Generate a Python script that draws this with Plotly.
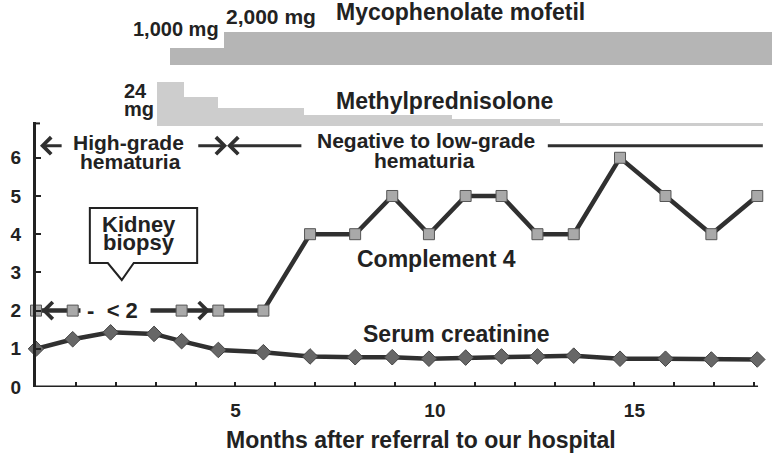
import plotly.graph_objects as go

# ---------------- data ----------------
c4_months = [0, 0.92, 3.65, 4.57, 5.70, 6.87, 8.00, 8.93, 9.85, 10.77, 11.67, 12.57, 13.48, 14.64, 15.78, 16.93, 18.08]
c4_values = [2, 2, 2, 2, 2, 4, 4, 5, 4, 5, 5, 4, 4, 6, 5, 4, 5]

cr_months = [0, 0.92, 1.87, 2.96, 3.65, 4.57, 5.70, 6.87, 8.00, 8.93, 9.85, 10.77, 11.67, 12.57, 13.48, 14.64, 15.78, 16.93, 18.08]
cr_values = [1.0, 1.25, 1.43, 1.39, 1.2, 0.97, 0.91, 0.8, 0.78, 0.78, 0.74, 0.77, 0.8, 0.8, 0.82, 0.74, 0.74, 0.72, 0.72]

mp_start = [3.03, 3.71, 4.57, 6.72, 10.42, 13.13]
mp_end = [3.71, 4.57, 6.72, 10.42, 13.13, 18.23]
mp_dose = [24, 16, 10, 6, 4, 2]

mmf_start = [3.36, 4.71]
mmf_end = [4.71, 18.45]
mmf_dose = [1000, 2000]

x_tickvals = list(range(1, 19))
x_ticktext = ["<b>%d</b>" % v if v in (5, 10, 15) else "" for v in x_tickvals]
y_tickvals = [0, 1, 2, 3, 4, 5, 6]
y_ticktext = ["<b>%d</b>" % v for v in y_tickvals]

FONT = "Liberation Sans, Arial, sans-serif"
INK = "#222222"
LINE = "#303030"

H_PLOT = 387.0


def py2paper(py):
    return (H_PLOT - py) / H_PLOT


def py2y(py):
    return (H_PLOT - py) / 38.2


fig = go.Figure()

# drug bars
fig.add_trace(go.Bar(x=mmf_start, y=mmf_dose, width=[e - s for s, e in zip(mmf_start, mmf_end)],
                     offset=0, xaxis="x", yaxis="y3", marker=dict(color="#b5b5b5", line=dict(width=0)),
                     hoverinfo="skip"))
fig.add_trace(go.Bar(x=mp_start, y=mp_dose, width=[e - s for s, e in zip(mp_start, mp_end)],
                     offset=0, xaxis="x", yaxis="y2", marker=dict(color="#cdcdcd", line=dict(width=0)),
                     hoverinfo="skip"))

# serum creatinine
fig.add_trace(go.Scatter(x=cr_months, y=cr_values, mode="lines+markers", cliponaxis=False,
                         line=dict(color=LINE, width=4.5),
                         marker=dict(symbol="diamond", size=12, color="#676767",
                                     line=dict(color="#444444", width=1))))
# complement 4
fig.add_trace(go.Scatter(x=c4_months, y=c4_values, mode="lines+markers", cliponaxis=False,
                         line=dict(color=LINE, width=4.5),
                         marker=dict(symbol="square", size=11, color="#a9a9a9",
                                     line=dict(color="#555555", width=1))))

ann = []


def label(text, x, y, size, xref="x", yref="y", xanchor="center", bg=None):
    d = dict(text="<b>%s</b>" % text, x=x, y=y, xref=xref, yref=yref, showarrow=False,
             xanchor=xanchor, yanchor="middle", font=dict(family=FONT, size=size, color=INK))
    if bg:
        d["bgcolor"] = bg
        d["borderpad"] = 0
    ann.append(d)


def arrow(xh, xt, y, standoff=0):
    ann.append(dict(x=xh, y=y, ax=xt, ay=y, xref="x", yref="y", axref="x", ayref="y", text="",
                    showarrow=True, arrowhead=4, arrowsize=1.1, arrowwidth=3, arrowcolor=LINE,
                    standoff=0, startstandoff=standoff))


# drug panel labels
label("Mycophenolate mofetil", 10.65, py2paper(12), 23, yref="paper")
label("1,000 mg", 3.51, py2paper(29), 20, yref="paper")
label("2,000 mg", 5.88, py2paper(16), 21, yref="paper")
label("24", 2.16, py2paper(90.5), 20, yref="paper", xanchor="left")
label("mg", 2.16, py2paper(109), 20, yref="paper", xanchor="left")
label("Methylprednisolone", 10.25, py2paper(101), 23, yref="paper")
label("mg/dL", -0.09, py2paper(103), 20, yref="paper")

# hematuria
hy = py2y(145.7)
label("High-grade", 2.33, py2y(142.5), 21)
label("hematuria", 2.36, py2y(161.5), 21)
label("Negative to low-grade", 9.77, py2y(141), 21)
label("hematuria", 9.75, py2y(160.5), 21)
arrow(0.10, 0.68, hy)
arrow(4.79, 4.03, hy)
arrow(4.79, 6.69, hy)

# series labels
label("Complement 4", 10.05, py2y(259), 23)
label("Serum creatinine", 10.53, py2y(334), 23)

# < 2 region
label("\u00a0-\u00a0\u00a0<\u00a02\u00a0\u00a0", (80 - 36) / 39.9, 2, 22, xanchor="left", bg="white")
arrow(0.14, 0.92, 2, standoff=6)
arrow(4.36, 3.65, 2, standoff=6)

# kidney biopsy callout text
label("Kidney", 2.58, py2y(224), 22)
label("biopsy", 2.58, py2y(242.5), 22)

# x title
label("Months after referral to our hospital", 9.65, py2paper(440), 23, yref="paper")

shapes = [
    # x axis baseline
    dict(type="line", xref="x", yref="y", x0=0, x1=18.1, y0=0, y1=0, line=dict(color=INK, width=3)),
    # top end tick of y axis
    dict(type="line", xref="x", yref="y", x0=0, x1=0.1, y0=6.9, y1=6.9, line=dict(color=INK, width=2)),
    # hematuria line right part
    dict(type="line", xref="x", yref="y", x0=12.83, x1=18.22, y0=hy, y1=hy, line=dict(color=LINE, width=3)),
    # kidney biopsy callout
    dict(type="path", xref="x", yref="y",
         path="M 1.35,%.3f L 4.04,%.3f L 4.04,%.3f L 2.45,%.3f L 2.15,%.3f L 1.80,%.3f L 1.35,%.3f Z" % (
             py2y(208), py2y(208), py2y(263), py2y(263), py2y(280), py2y(263), py2y(263)),
         fillcolor="white", line=dict(color=INK, width=2), layer="above"),
]

fig.update_layout(
    width=774, height=465,
    margin=dict(l=36, r=0, t=0, b=78, autoexpand=False),
    paper_bgcolor="white", plot_bgcolor="white",
    showlegend=False,
    font=dict(family=FONT, color=INK),
    xaxis=dict(range=[0, 18.5], domain=[0, 1], anchor="y", showline=False, showgrid=False, zeroline=False,
               automargin=False,
               ticks="inside", ticklen=5, tickwidth=2, tickcolor=INK,
               tickvals=x_tickvals, ticktext=x_ticktext, tickfont=dict(size=19, family=FONT, color=INK),
               ticklabelstandoff=10),
    yaxis=dict(range=[0, 6.937], domain=[0, 0.68475], anchor="x", showline=True, linewidth=3, linecolor=INK,
               automargin=False,
               showgrid=False, zeroline=False, ticks="inside", ticklen=5, tickwidth=2, tickcolor=INK,
               tickvals=y_tickvals, ticktext=y_ticktext, tickfont=dict(size=19, family=FONT, color=INK),
               ticklabelstandoff=8),
    yaxis2=dict(range=[0, 30.27], domain=[0.67364, 0.81912], anchor="x", visible=False, automargin=False),
    yaxis3=dict(range=[0, 2702.7], domain=[0.83204, 0.94832], anchor="x", visible=False, automargin=False),
    annotations=ann,
    shapes=shapes,
    bargap=0,
)

fig.write_html("out.html", config={"displayModeBar": False},
               post_script="document.body.style.margin='0';document.body.style.padding='0';")
